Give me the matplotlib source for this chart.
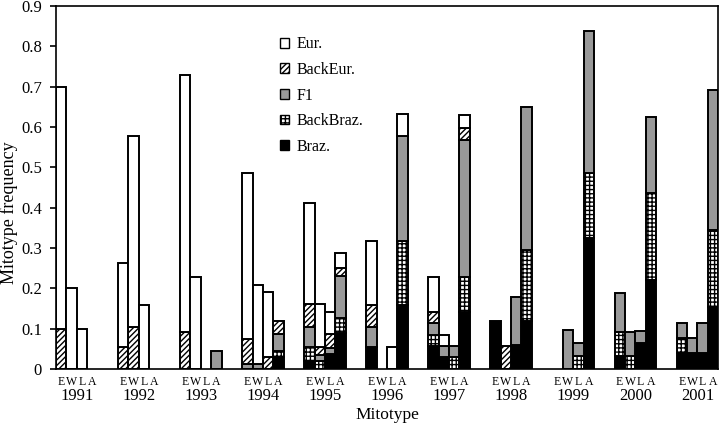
import numpy as np
import matplotlib
matplotlib.use("Agg")
import matplotlib.pyplot as plt

years = ["1991", "1992", "1993", "1994", "1995", "1996",
         "1997", "1998", "1999", "2000", "2001"]
sites = ["E", "W", "L", "A"]

# one row per year, columns E W L A
braz = [
    [0, 0, 0, 0],
    [0, 0, 0, 0],
    [0, 0, 0, 0],
    [0, 0, 0, 0.029],
    [0.02, 0, 0.036, 0.09],
    [0.055, 0, 0, 0.159],
    [0.056, 0.03, 0, 0.142],
    [0.12, 0, 0.06, 0.119],
    [0, 0, 0, 0.324],
    [0.031, 0, 0.064, 0.22],
    [0.039, 0.039, 0.039, 0.154],
]
backbraz = [
    [0, 0, 0, 0],
    [0, 0, 0, 0],
    [0, 0, 0, 0],
    [0, 0, 0, 0.016],
    [0.034, 0.02, 0, 0.036],
    [0, 0, 0, 0.158],
    [0.028, 0, 0.03, 0.085],
    [0, 0, 0, 0.176],
    [0, 0, 0.031, 0.161],
    [0.061, 0.032, 0, 0.217],
    [0.037, 0, 0, 0.191],
]
f1 = [
    [0, 0, 0, 0],
    [0, 0, 0, 0],
    [0, 0, 0, 0.045],
    [0.012, 0.012, 0, 0.043],
    [0.051, 0.015, 0.015, 0.105],
    [0.048, 0, 0, 0.261],
    [0.029, 0.027, 0.027, 0.342],
    [0, 0, 0.118, 0.354],
    [0, 0.097, 0.034, 0.354],
    [0.096, 0.06, 0.029, 0.187],
    [0.039, 0.039, 0.076, 0.347],
]
backeur = [
    [0.1, 0, 0, 0],
    [0.054, 0.105, 0, 0],
    [0.092, 0, 0, 0],
    [0.062, 0, 0.03, 0.031],
    [0.056, 0.019, 0.037, 0.019],
    [0.056, 0, 0, 0],
    [0.029, 0, 0, 0.029],
    [0, 0.058, 0, 0],
    [0, 0, 0, 0],
    [0, 0, 0, 0],
    [0, 0, 0, 0],
]
eur = [
    [0.6, 0.2, 0.1, 0],
    [0.208, 0.473, 0.158, 0],
    [0.636, 0.228, 0, 0],
    [0.411, 0.196, 0.16, 0],
    [0.25, 0.107, 0.054, 0.037],
    [0.158, 0, 0.054, 0.054],
    [0.085, 0.027, 0, 0.032],
    [0, 0, 0, 0],
    [0, 0, 0, 0],
    [0, 0, 0, 0],
    [0, 0, 0, 0],
]

plt.rcParams['font.family'] = ['Liberation Serif', 'DejaVu Serif']
plt.rcParams['hatch.linewidth'] = 1.0

fig = plt.figure(figsize=(7.2, 4.28), dpi=100)
ax = fig.add_axes([56 / 720, 59 / 428, 662 / 720, 363 / 428])

stride = 6
x = np.array([g * stride + i for g in range(len(years)) for i in range(len(sites))])

layers = [
    ("Braz.", braz, "black", None),
    ("BackBraz.", backbraz, "white", "++++"),
    ("F1", f1, "#999999", None),
    ("BackEur.", backeur, "white", "//////"),
    ("Eur.", eur, "white", None),
]

bottom = np.zeros(len(x))
handles = {}
for name, vals, color, hatch in layers:
    v = np.array(vals, dtype=float).ravel()
    lw = np.where(v > 0, 1.4, 0.0)
    bars = ax.bar(x, v, width=1.0, bottom=bottom, color=color, hatch=hatch,
                  edgecolor="black", linewidth=lw, align="center")
    handles[name] = bars
    bottom = bottom + v

order = ["Eur.", "BackEur.", "F1", "BackBraz.", "Braz."]
leg = ax.legend([handles[n] for n in order], order, loc="upper left",
                bbox_to_anchor=(266 / 720, 1 - 22 / 428), bbox_transform=fig.transFigure,
                frameon=False, fontsize=11.5, handlelength=0.55, handleheight=0.55,
                handletextpad=0.45, labelspacing=0.6)
for p in leg.get_patches():
    p.set_linewidth(1.0)

ax.set_xlim(-0.5, (len(years) - 1) * stride + 3.5)
ax.set_ylim(0, 0.9)
ax.set_yticks(np.arange(0, 0.91, 0.1))
ax.set_yticklabels(["0"] + ["%.1f" % t for t in np.arange(0.1, 0.91, 0.1)], fontsize=12)
ax.tick_params(axis="y", direction="out", length=4, width=1.2, pad=6)

ax.set_xticks(np.arange(len(years)) * stride + 1.5)
ax.set_xticklabels(years, fontsize=12)
ax.set_xticks(x, minor=True)
ax.set_xticklabels(sites * len(years), minor=True, fontsize=8.5)
ax.tick_params(axis="x", which="major", length=0, pad=14)
ax.tick_params(axis="x", which="minor", length=0, pad=5)

ax.set_ylabel("Mitotype frequency", fontsize=13)
ax.yaxis.set_label_coords(-0.058, 0.43)
ax.set_xlabel("Mitotype", fontsize=12.5)
ax.xaxis.set_label_coords(0.5, -0.105)

for s in ax.spines.values():
    s.set_linewidth(1.2)

fig.savefig("out.png", dpi=100)
